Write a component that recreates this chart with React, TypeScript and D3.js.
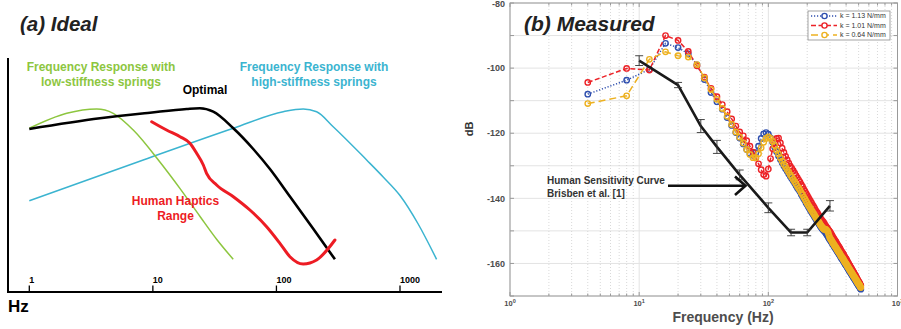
import React from "react";
import * as d3 from "d3";

const FONT = "'Liberation Sans', Arial, Helvetica, sans-serif";

// ---------------- Panel (a): Ideal ----------------
const idealTickValues = [1, 10, 100, 1000];
const idealTickLabels = ["1", "10", "100", "1000"];

const lowFreq = [1, 2.01, 3.51, 4.78, 6.94, 11.4, 16.6, 24, 32.8, 44.7];
const lowLevel = [163.7, 178.7, 183, 178.7, 162, 130, 103.4, 75.8, 52.8, 32.7];

const optFreq = [1, 3.73, 9.47, 18.8, 24, 30.8, 44.8, 64.9, 88.6, 128.6, 198.5, 297.4];
const optLevel = [163, 173.7, 179.3, 183, 183.7, 180.3, 163.7, 143, 123, 95.5, 63.2, 32.7];

const hapFreq = [9.78, 12.9, 16.6, 19.96, 22.6, 25.6, 27.2, 32.8, 44.8, 61, 83.3, 106.7, 128.6, 164.8, 211.5, 297.4];
const hapLevel = [170.3, 162, 155.3, 148.7, 138.7, 127, 118.7, 107, 95.3, 82, 65.3, 48.7, 35.3, 28, 32, 52];

const highFreq = [1, 8.36, 44.8, 113.5, 164.8, 211.5, 288, 537, 731, 1000, 1403, 1977];
const highLevel = [91.3, 132, 163.7, 180.3, 183, 180.3, 165.3, 132, 115, 96.5, 68, 32.7];

// ---------------- Panel (b): Measured ----------------
const measFreq = [4,8,12,16,20,24,28,32,36,40,44,48,52,56,60,64,68,72,76,80,84,88,92,96,100,104,108,112,116,120,124,128,132,136,140,144,148,152,156,160,164,168,172,176,180,184,188,192,196,200,204,208,212,216,220,224,228,232,236,240,244,248,252,256,260,264,268,272,276,280,284,288,292,296,300,304,308,312,316,320,324,328,332,336,340,344,348,352,356,360,364,368,372,376,380,384,388,392,396,400,404,408,412,416,420,424,428,432,436,440,444,448,452,456,460,464,468,472,476,480,484,488,492,496,500,504,508,512,516,520];

const k113 = [
-108.0,-103.7,-100.4,-92.4,-93.7,-95.6,-99.0,-103.5,-107.5,-110.3,
-112.6,-115.2,-117.6,-119.8,-121.5,-123.3,-125.0,-126.2,-126.8,-126.0,
-124.0,-121.6,-120.2,-119.8,-120.3,-121.4,-122.8,-124.3,-125.7,-127.0,
-128.1,-129.1,
-130.1,-130.9,-131.7,-132.5,-133.3,-134.0,-134.7,-135.4,-136.1,-136.8,
-137.4,-138.0,-138.8,-139.4,-140.1,-140.7,-141.4,-142.0,-142.6,-143.1,
-143.7,-144.2,-144.7,-145.2,-145.7,-146.2,-146.7,-147.1,-147.6,-148.0,
-148.5,-148.9,-149.3,-149.6,-149.9,-150.1,-150.4,-150.8,-151.2,-151.6,
-152.0,-152.4,-152.7,-153.1,-153.4,-153.8,-154.2,-154.5,-154.9,-155.2,
-155.5,-155.8,-156.2,-156.5,-156.8,-157.1,-157.4,-157.7,-158.1,-158.4,
-158.6,-158.9,-159.2,-159.5,-159.8,-160.1,-160.4,-160.6,-160.9,-161.2,
-161.5,-161.7,-162.0,-162.3,-162.5,-162.8,-163.0,-163.3,-163.5,-163.8,
-164.0,-164.3,-164.5,-164.7,-165.0,-165.2,-165.4,-165.7,-165.9,-166.1,
-166.4,-166.6,-166.8,-167.0,-167.2,-167.4,-167.7,-167.9];

const k101 = [
-104.4,-100.1,-100.6,-90.0,-91.5,-94.9,-99.3,-102.8,-106.2,-108.8,
-111.2,-113.4,-115.6,-117.8,-119.6,-120.8,-122.3,-124.0,-125.8,-127.6,
-129.4,-131.2,-132.7,-133.2,-131.0,-127.8,-124.8,-123.0,-121.6,-121.5,
-123.0,-124.6,
-125.9,-127.1,-128.2,-129.2,-130.1,-130.8,-131.5,-132.3,-133.0,-133.7,
-134.4,-135.0,-135.8,-136.4,-137.2,-137.8,-138.5,-139.1,-139.7,-140.3,
-140.9,-141.4,-142.0,-142.5,-143.0,-143.6,-144.1,-144.5,-145.0,-145.5,
-146.0,-146.4,-146.8,-147.1,-147.4,-147.8,-148.3,-148.6,-149.0,-149.3,
-149.7,-150.0,-150.3,-150.7,-151.1,-151.5,-151.9,-152.2,-152.6,-152.9,
-153.2,-153.5,-154.0,-154.3,-154.6,-154.9,-155.2,-155.5,-156.0,-156.3,
-156.5,-156.8,-157.1,-157.4,-157.8,-158.1,-158.4,-158.6,-158.9,-159.3,
-159.6,-159.8,-160.2,-160.5,-160.7,-161.1,-161.3,-161.6,-161.8,-162.2,
-162.4,-162.7,-162.9,-163.2,-163.5,-163.7,-164.0,-164.3,-164.5,-164.8,
-165.1,-165.3,-165.6,-165.8,-166.0,-166.3,-166.6,-166.8];

const k064 = [
-110.9,-108.5,-97.3,-95.0,-96.2,-96.6,-98.9,-103.0,-106.6,-109.6,
-112.4,-114.8,-117.3,-119.6,-121.2,-123.0,-125.0,-126.5,-127.5,-127.5,
-126.3,-124.5,-122.8,-121.6,-121.1,-121.6,-122.5,-123.8,-125.2,-126.4,
-127.6,-128.6,
-129.6,-130.4,-131.2,-132.0,-132.8,-133.5,-134.2,-134.9,-135.6,-136.3,
-136.9,-137.5,-138.3,-138.9,-139.6,-140.2,-140.9,-141.5,-142.1,-142.6,
-143.2,-143.7,-144.2,-144.7,-145.2,-145.7,-146.2,-146.6,-147.1,-147.5,
-148.0,-148.4,-148.8,-149.1,-149.4,-149.6,-149.5,-149.6,-149.9,-150.2,
-150.8,-151.6,-152.2,-152.6,-152.9,-153.3,-153.7,-154.0,-154.4,-154.7,
-155.0,-155.3,-155.7,-156.0,-156.3,-156.6,-156.9,-157.2,-157.6,-157.9,
-158.1,-158.4,-158.7,-159.0,-159.3,-159.6,-159.9,-160.1,-160.4,-160.7,
-161.0,-161.2,-161.5,-161.8,-162.0,-162.3,-162.5,-162.8,-163.0,-163.3,
-163.5,-163.8,-164.0,-164.2,-164.5,-164.7,-164.9,-165.2,-165.4,-165.6,
-165.9,-166.1,-166.3,-166.5,-166.7,-166.9,-167.2,-167.4];

const seriesNames = ["k = 1.13 N/mm", "k = 1.01 N/mm", "k = 0.64 N/mm"];
const seriesColors = ["#2f4fae", "#ec2227", "#edb120"];
const seriesDashes = ["1.2 1.8", "5 2.5", "7 4"];

const humanFreq = [10, 20, 30, 40, 60, 100, 150, 200, 300];
const humanDb = [-97.7, -105.2, -117.8, -124.2, -132.8, -142.9, -150.5, -150.5, -142.3];
const humanErr = [1.5, 0.8, 2.0, 2.0, 1.5, 1.5, 1.0, 1.0, 1.6];

const yTickLabelValues = [-80, -100, -120, -140, -160];
const xDecades = [1, 10, 100, 1000];
const xDecadeExps = ["0", "1", "2", "3"];

export default function App() {
  // Panel (a) scales
  const xL = d3.scaleLog().domain([1, 1000]).range([29.3, 400]);
  const yL = d3.scaleLinear().domain([0, 234]).range([292, 58]);
  const curveL = (fs: number[], ls: number[]) =>
    d3
      .line<number>()
      .x((i) => xL(fs[i]))
      .y((i) => yL(ls[i]))
      .curve(d3.curveMonotoneX)(d3.range(fs.length)) || "";

  // Panel (b) scales
  const xR = d3.scaleLog().domain([1, 1000]).range([510, 897.5]);
  const yR = d3.scaleLinear().domain([-170, -80]).range([296, 3]);
  const [x0, x1] = xR.range();
  const [yb, yt] = yR.range();
  const lineR = (fs: number[], vs: number[]) =>
    d3
      .line<number>()
      .x((i) => xR(fs[i]))
      .y((i) => yR(vs[i]))(d3.range(fs.length)) || "";

  const minorX = xR.ticks().filter((t) => !xDecades.includes(t));
  const yGrid = d3.range(-170, -79, 10);
  const series = [k113, k101, k064].map((v, i) => ({
    values: v,
    name: seriesNames[i],
    color: seriesColors[i],
    dash: seriesDashes[i],
  }));

  const axisGray = "#9a9a9a";
  const labelGray = "#4d4d4d";

  return (
    <svg
      width={901}
      height={329}
      viewBox="0 0 901 329"
      style={{ position: "absolute", left: 0, top: 0, background: "#fff" }}
      fontFamily={FONT}
    >
      <rect x={0} y={0} width={901} height={329} fill="#fff" />

      {/* ================= Panel (a) ================= */}
      <text x={20} y={31} fontSize={20.5} fontWeight="bold" fontStyle="italic" fill="#222">
        (a) Ideal
      </text>

      {/* curves */}
      <path d={curveL(highFreq, highLevel)} fill="none" stroke="#3bb4d0" strokeWidth={1.5} />
      <path d={curveL(lowFreq, lowLevel)} fill="none" stroke="#8dc63f" strokeWidth={1.5} />
      <path d={curveL(optFreq, optLevel)} fill="none" stroke="#000" strokeWidth={2.6} strokeLinejoin="round" />
      <path d={curveL(hapFreq, hapLevel)} fill="none" stroke="#ed1c24" strokeWidth={3} strokeLinejoin="round" strokeLinecap="round" />

      {/* labels */}
      <g fontSize={12} fontWeight="bold" textAnchor="middle">
        <text x={101} y={70.5} fill="#8dc63f">Frequency Response with</text>
        <text x={101} y={85.5} fill="#8dc63f">low-stiffness springs</text>
        <text x={314} y={70.5} fill="#3bb4d0">Frequency Response with</text>
        <text x={314} y={85.5} fill="#3bb4d0">high-stiffness springs</text>
        <text x={205} y={93.6} fill="#000">Optimal</text>
        <text x={175.5} y={204.5} fill="#ed1c24">Human Haptics</text>
        <text x={175.5} y={219.5} fill="#ed1c24">Range</text>
      </g>

      {/* axes */}
      <line x1={8} y1={58} x2={8} y2={293} stroke="#000" strokeWidth={2} />
      <line x1={7} y1={292} x2={442} y2={292} stroke="#000" strokeWidth={2} />
      {idealTickValues.map((t, i) => (
        <g key={"it" + i}>
          <line x1={xL(t)} x2={xL(t)} y1={285.5} y2={292} stroke="#000" strokeWidth={1.3} />
          <text x={xL(t)} y={282.5} fontSize={9} fontWeight="bold" fill="#000">
            {idealTickLabels[i]}
          </text>
        </g>
      ))}
      <text x={8} y={311.7} fontSize={17} fontWeight="bold" fill="#000">Hz</text>

      {/* ================= Panel (b) ================= */}
      <defs>
        <clipPath id="plotClip">
          <rect x={x0} y={yt} width={x1 - x0} height={yb - yt} />
        </clipPath>
      </defs>

      {/* grid */}
      {yGrid.map((v) => (
        <line key={"yg" + v} x1={x0} x2={x1} y1={yR(v)} y2={yR(v)} stroke="#e3e3e3" strokeWidth={1} />
      ))}
      {minorX.map((t) => (
        <line key={"mx" + t} x1={xR(t)} x2={xR(t)} y1={yt} y2={yb} stroke="#cfcfcf" strokeWidth={0.8} strokeDasharray="1 2" />
      ))}
      {xDecades.map((t) => (
        <line key={"dx" + t} x1={xR(t)} x2={xR(t)} y1={yt} y2={yb} stroke="#e3e3e3" strokeWidth={1} />
      ))}

      {/* axes box & ticks */}
      <rect x={x0} y={yt} width={x1 - x0} height={yb - yt} fill="none" stroke={axisGray} strokeWidth={1} />
      {yGrid.map((v) => (
        <g key={"yt" + v}>
          <line x1={x0} x2={x0 + 4} y1={yR(v)} y2={yR(v)} stroke={axisGray} />
          <line x1={x1 - 4} x2={x1} y1={yR(v)} y2={yR(v)} stroke={axisGray} />
        </g>
      ))}
      {minorX.map((t) => (
        <g key={"xt" + t}>
          <line x1={xR(t)} x2={xR(t)} y1={yb} y2={yb - 2.5} stroke={axisGray} />
          <line x1={xR(t)} x2={xR(t)} y1={yt} y2={yt + 2.5} stroke={axisGray} />
        </g>
      ))}
      {xDecades.map((t) => (
        <g key={"xT" + t}>
          <line x1={xR(t)} x2={xR(t)} y1={yb} y2={yb - 4} stroke={axisGray} />
          <line x1={xR(t)} x2={xR(t)} y1={yt} y2={yt + 4} stroke={axisGray} />
        </g>
      ))}

      {/* tick labels */}
      {yTickLabelValues.map((v) => (
        <text key={"yl" + v} x={505} y={Math.max(yR(v) + 3.2, 7.4)} fontSize={9} fontWeight="bold" fill={labelGray} textAnchor="end">
          {v}
        </text>
      ))}
      {xDecades.map((t, i) => (
        <text key={"xl" + t} x={xR(t)} y={306} fontSize={7.5} fontWeight="bold" fill={labelGray} textAnchor="middle">
          10
          <tspan dy={-3.2} fontSize={5.5}>{xDecadeExps[i]}</tspan>
        </text>
      ))}
      <text x={723} y={322} fontSize={14} fontWeight="bold" fill={labelGray} textAnchor="middle">
        Frequency (Hz)
      </text>
      <text
        transform={`translate(473,129) rotate(-90)`}
        fontSize={11}
        fontWeight="bold"
        fill="#333"
        textAnchor="middle"
      >
        dB
      </text>

      {/* title */}
      <text x={524} y={31} fontSize={21} fontWeight="bold" fontStyle="italic" fill="#222">
        (b) Measured
      </text>

      {/* measured series */}
      <g clipPath="url(#plotClip)">
        {series.map((s, si) => (
          <g key={"s" + si}>
            <path d={lineR(measFreq, s.values)} fill="none" stroke={s.color} strokeWidth={1.5} strokeDasharray={s.dash} />
            {s.values.map((v, i) => (
              <circle key={i} cx={xR(measFreq[i])} cy={yR(v)} r={2.7} fill="none" stroke={s.color} strokeWidth={1.4} />
            ))}
          </g>
        ))}

        {/* human sensitivity curve */}
        <path d={lineR(humanFreq, humanDb)} fill="none" stroke="#1a1a1a" strokeWidth={2.6} strokeLinejoin="round" />
        {humanFreq.map((f, i) => {
          const cx = xR(f);
          const ya = yR(humanDb[i] + humanErr[i]);
          const yz = yR(humanDb[i] - humanErr[i]);
          return (
            <g key={"eb" + i} stroke="#333" strokeWidth={0.9}>
              <line x1={cx} x2={cx} y1={ya} y2={yz} />
              <line x1={cx - 4} x2={cx + 4} y1={ya} y2={ya} />
              <line x1={cx - 4} x2={cx + 4} y1={yz} y2={yz} />
            </g>
          );
        })}
      </g>

      {/* annotation */}
      <g fontSize={10} fontWeight="bold" fill="#333">
        <text x={547} y={184}>Human Sensitivity Curve</text>
        <text x={547} y={197.2}>Brisben et al. [1]</text>
      </g>
      <g stroke="#111" strokeWidth={2.6} fill="none" strokeLinecap="butt">
        <line x1={668} y1={185.7} x2={745} y2={185.7} />
        <polyline points="735,176.5 745.5,185.7 735,195" strokeLinejoin="miter" />
      </g>

      {/* legend */}
      <rect x={808} y={11} width={82} height={29} fill="#fff" stroke="#8c8c8c" strokeWidth={0.8} />
      {series.map((s, i) => {
        const ly = 16 + i * 9.5;
        return (
          <g key={"lg" + i}>
            <line x1={811} x2={837} y1={ly} y2={ly} stroke={s.color} strokeWidth={1.5} strokeDasharray={s.dash} />
            <circle cx={824.5} cy={ly} r={2.6} fill="#fff" stroke={s.color} strokeWidth={1.4} />
            <text x={840} y={ly + 2.4} fontSize={7} fill="#333">
              {s.name}
            </text>
          </g>
        );
      })}
    </svg>
  );
}
